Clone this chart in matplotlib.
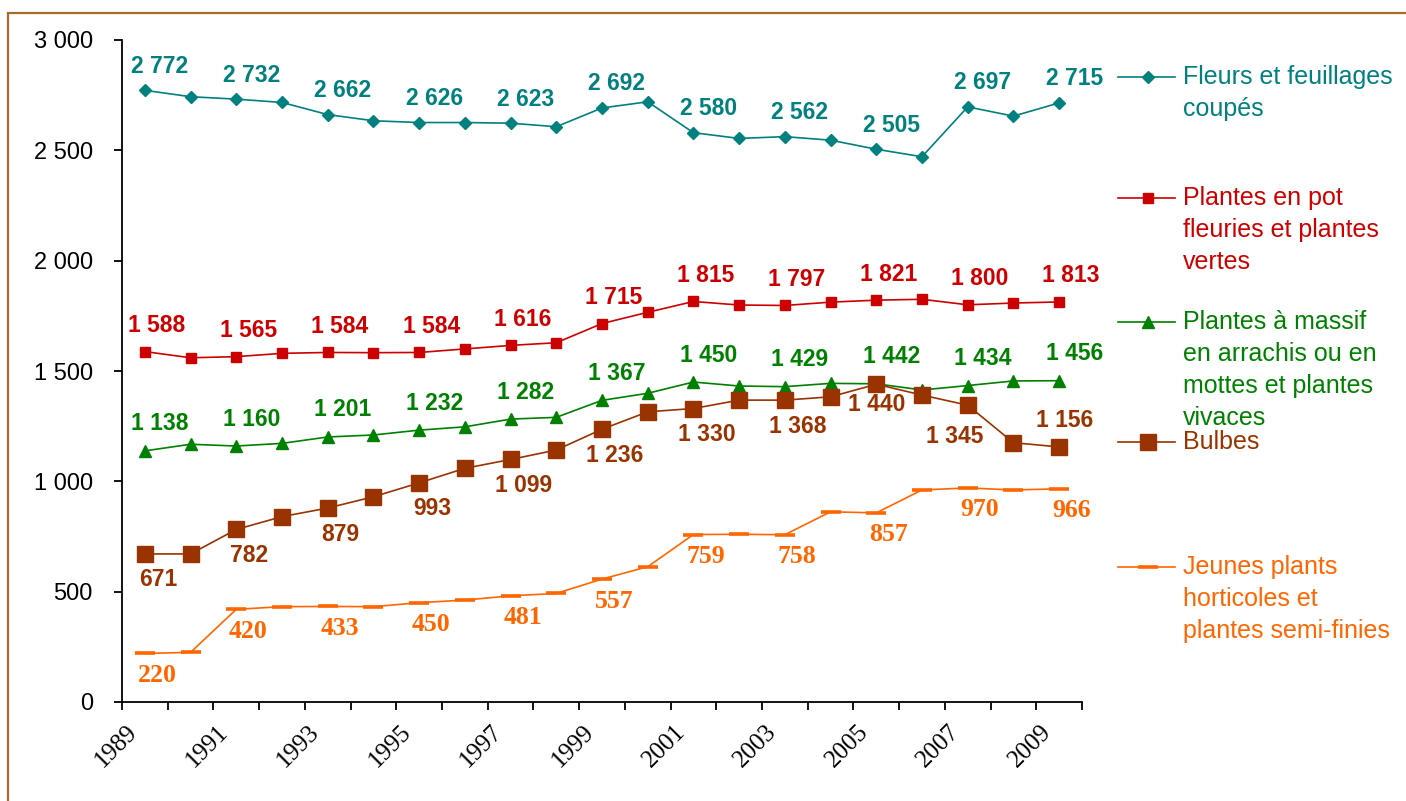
import matplotlib
matplotlib.use("Agg")
import matplotlib.pyplot as plt
from matplotlib.lines import Line2D
from matplotlib.patches import Rectangle

plt.rcParams["font.family"] = ["Liberation Sans", "DejaVu Sans"]

# data, 1989 -> 2009
years = list(range(1989, 2010))

fleurs = [2772, 2743, 2732, 2717, 2662, 2634, 2626, 2626, 2623, 2607, 2692,
          2720, 2580, 2554, 2562, 2546, 2505, 2471, 2697, 2655, 2715]
pot = [1588, 1560, 1565, 1580, 1584, 1583, 1584, 1600, 1616, 1628, 1715,
       1766, 1815, 1799, 1797, 1812, 1821, 1825, 1800, 1808, 1813]
massif = [1138, 1168, 1160, 1172, 1201, 1210, 1232, 1247, 1282, 1290, 1367,
          1399, 1450, 1432, 1429, 1444, 1442, 1414, 1434, 1455, 1456]
bulbes = [671, 671, 782, 840, 879, 930, 993, 1059, 1099, 1142, 1236,
          1315, 1330, 1368, 1368, 1383, 1440, 1391, 1345, 1175, 1156]
jeunes = [220, 225, 420, 432, 433, 432, 450, 462, 481, 492, 557,
          613, 759, 760, 758, 862, 857, 961, 970, 961, 966]

names = ["Fleurs et feuillages\ncoupés",
         "Plantes en pot\nfleuries et plantes\nvertes",
         "Plantes à massif\nen arrachis ou en\nmottes et plantes\nvivaces",
         "Bulbes",
         "Jeunes plants\nhorticoles et\nplantes semi-finies"]

W, H = 1406, 801
fig = plt.figure(figsize=(W / 100, H / 100), dpi=100)
ax = fig.add_axes([122 / W, 1 - 702 / H, (1082 - 122) / W, (702 - 40) / H])

x = list(range(len(years)))

# style per series: color, marker, size, edge width, label offset (px), label font, label size
styles = [
    ("#00807f", "D", 6, 1, (15, 24), "Liberation Sans", 16.5),
    ("#cc0000", "s", 7, 1, (12, 26), "Liberation Sans", 16.5),
    ("#008000", "^", 8, 1, (15, 27), "Liberation Sans", 16.5),
    ("#993300", "s", 12, 1, (13, -26), "Liberation Sans", 16.5),
    ("#ff6600", "_", 14, 2.6, (12, -22), "Liberation Serif", 18.5),
]
series = [fleurs, pot, massif, bulbes, jeunes]

# a few labels were moved by hand in the original
special = {(3, 16): (0, -20), (3, 18): (-13, -31), (3, 20): (5, 26)}

for k, (vals, st) in enumerate(zip(series, styles)):
    col, mk, ms, mew, off, fam, fs = st
    ax.plot(x, vals, color=col, lw=1.2, marker=mk, ms=ms, mew=mew,
            mfc=col, mec=col, clip_on=False)
    for i in range(0, len(vals), 2):
        o = special.get((k, i), off)
        ax.annotate(f"{vals[i]:,}".replace(",", " "), (x[i], vals[i]),
                    xytext=o, textcoords="offset pixels", ha="center",
                    va="center", color=col, fontsize=fs, fontweight="bold",
                    family=fam)

ax.set_xlim(-0.5, len(years) - 0.5)
ax.set_ylim(0, 3000)
ax.spines["top"].set_visible(False)
ax.spines["right"].set_visible(False)
ax.spines["left"].set_linewidth(1.3)
ax.spines["bottom"].set_linewidth(1.3)

yt = list(range(0, 3001, 500))
ax.set_yticks(yt)
ax.set_yticklabels([f"{v:,}".replace(",", " ") for v in yt])
ax.tick_params(axis="y", direction="out", length=6, width=1.3, pad=15,
               labelsize=17)

ax.set_xticks([i - 0.5 for i in range(len(years) + 1)])
ax.set_xticklabels([])
ax.tick_params(axis="x", which="major", direction="out", length=6, width=1.3)
lab_pos = [i - 0.25 for i in range(0, len(years), 2)]
ax.set_xticks(lab_pos, minor=True)
ax.set_xticklabels([str(years[i]) for i in range(0, len(years), 2)],
                   minor=True, rotation=45, ha="right", va="center",
                   rotation_mode="anchor", family="Liberation Serif")
ax.tick_params(axis="x", which="minor", length=0, pad=19, labelsize=18)

# legend drawn by hand, same layout as the original
leg_y = [77, 198, 322, 442, 567]
for (col, mk, ms, mew, off, fam, fs), name, y in zip(styles, names, leg_y):
    fy = 1 - y / H
    fig.add_artist(Line2D([1118 / W, 1175 / W], [fy, fy], color=col, lw=1.2,
                          transform=fig.transFigure))
    fig.add_artist(Line2D([1148 / W], [fy], color=col, marker=mk, ms=ms,
                          mew=mew, mfc=col, mec=col,
                          transform=fig.transFigure))
    for j, line in enumerate(name.split("\n")):
        fig.text(1183 / W, 1 - (y + 32 * j) / H, line, color=col,
                 fontsize=18, ha="left", va="center")

# brown frame around the picture
fig.add_artist(Rectangle((8 / W, -0.1), 1.2, 1 - 13 / H + 0.1, fill=False,
                         ec="#a86c28", lw=1.6, transform=fig.transFigure))

fig.savefig("out.png", dpi=100)
